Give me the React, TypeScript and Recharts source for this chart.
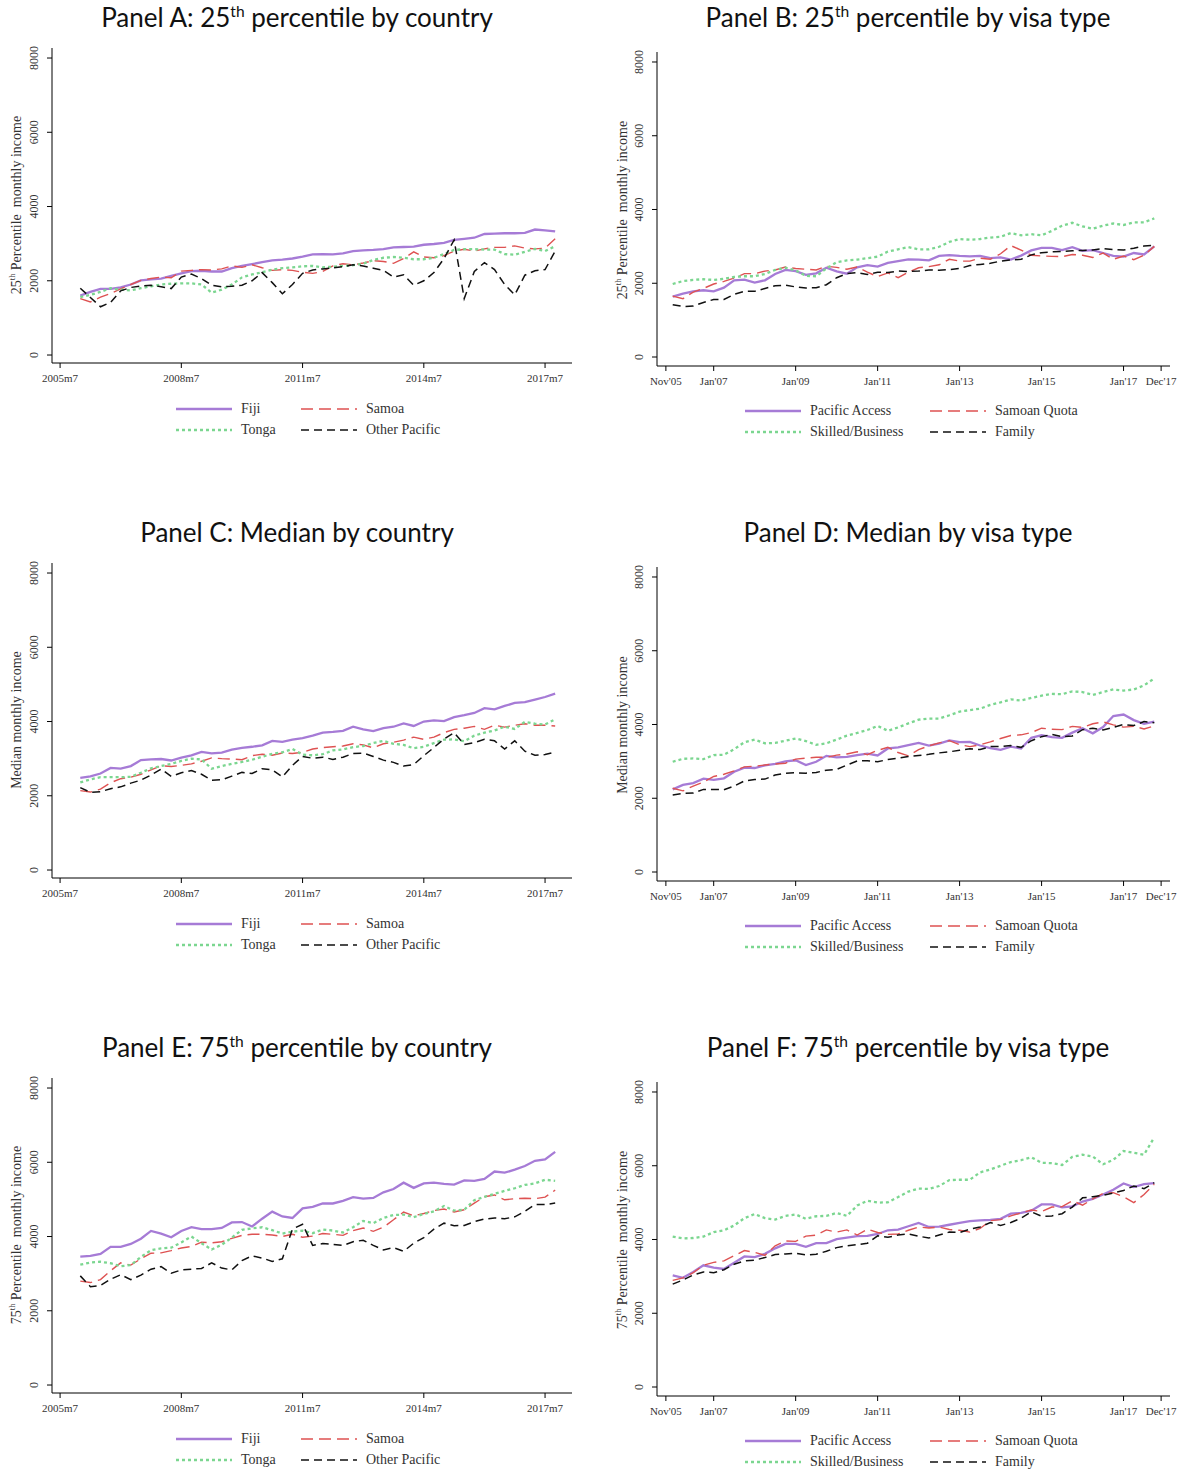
import React from 'react';
import { LineChart, Line, XAxis, YAxis } from 'recharts';

// month offsets from Jan 2006 (quarterly readings)
const monthIndex = [
  0, 3, 6, 9, 12, 15, 18, 21, 24, 27, 30, 33,
  36, 39, 42, 45, 48, 51, 54, 57, 60, 63, 66, 69,
  72, 75, 78, 81, 84, 87, 90, 93, 96, 99, 102, 105,
  108, 111, 114, 117, 120, 123, 126, 129, 132, 135, 138, 141,
];

const countryTicks = [-6, 30, 66, 102, 138];
const countryTickLabels = ['2005m7', '2008m7', '2011m7', '2014m7', '2017m7'];
const visaTicks = [-2, 12, 36, 60, 84, 108, 132, 143];
const visaTickLabels = ["Nov'05", "Jan'07", "Jan'09", "Jan'11", "Jan'13", "Jan'15", "Jan'17", "Dec'17"];
const incomeTicks = [0, 2000, 4000, 6000, 8000];

const countryNames = ['Fiji', 'Samoa', 'Tonga', 'Other Pacific'];
const visaNames = ['Pacific Access', 'Samoan Quota', 'Skilled/Business', 'Family'];

// Panel A: 25th percentile by country
const fijiP25 = [
  1600, 1700, 1780, 1780, 1820, 1900, 2010, 2040, 2060, 2130, 2200, 2260,
  2270, 2250, 2250, 2340, 2400, 2450, 2500, 2550, 2570, 2600, 2650, 2710,
  2720, 2710, 2740, 2800, 2820, 2830, 2850, 2900, 2910, 2920, 2970, 2990,
  3020, 3100, 3130, 3160, 3260, 3270, 3280, 3280, 3290, 3380, 3360, 3330,
];
const samoaP25 = [
  1520, 1430, 1560, 1660, 1780, 1900, 2010, 2060, 2100, 2080, 2260, 2280,
  2300, 2290, 2320, 2400, 2360, 2430, 2350, 2280, 2300, 2280, 2230, 2200,
  2250, 2400, 2460, 2430, 2480, 2540, 2520, 2470, 2600, 2780, 2640, 2620,
  2680, 2800, 2850, 2800, 2860, 2900, 2900, 2940, 2880, 2860, 2880, 3130,
];
const tongaP25 = [
  1560, 1620, 1700, 1800, 1760, 1740, 1800, 1850, 1900, 1920, 1930, 1930,
  1900, 1680, 1760, 1900, 2090, 2170, 2230, 2300, 2340, 2360, 2390, 2400,
  2360, 2380, 2400, 2420, 2460, 2560, 2620, 2640, 2620, 2580, 2580, 2620,
  2720, 2830, 2850, 2850, 2840, 2840, 2720, 2700, 2780, 2860, 2800, 2930,
];
const otherP25 = [
  1800, 1550, 1300, 1420, 1730, 1820, 1860, 1880, 1840, 1790, 2100, 2180,
  2060, 1880, 1840, 1850, 1880, 2000, 2220, 1950, 1650, 1900, 2200, 2290,
  2320, 2350, 2380, 2430, 2400, 2340, 2280, 2100, 2160, 1880, 2000, 2220,
  2600, 3100, 1520, 2250, 2490, 2300, 1900, 1620, 2150, 2270, 2300, 2800,
];

// Panel B: 25th percentile by visa type
const pacificP25 = [
  1640, 1720, 1780, 1810, 1780, 1880, 2080, 2100, 2020, 2080, 2250, 2360,
  2330, 2230, 2270, 2420, 2320, 2260, 2430, 2490, 2450, 2550, 2600, 2650,
  2640, 2620, 2740, 2760, 2740, 2730, 2740, 2680, 2700, 2640, 2750, 2890,
  2960, 2960, 2900, 2980, 2880, 2900, 2820, 2740, 2720, 2820, 2780, 3000,
];
const quotaP25 = [
  1650, 1580, 1760, 1860, 1980, 2050, 2140, 2260, 2260, 2330, 2360, 2440,
  2400, 2380, 2360, 2460, 2430, 2380, 2440, 2300, 2180, 2280, 2150, 2300,
  2420, 2450, 2500, 2650, 2600, 2600, 2680, 2650, 2800, 3020, 2900, 2760,
  2740, 2730, 2720, 2780, 2760, 2700, 2820, 2650, 2740, 2640, 2760, 3000,
];
const skilledP25 = [
  1980, 2060, 2090, 2110, 2090, 2120, 2170, 2190, 2190, 2250, 2360, 2420,
  2350, 2200, 2190, 2400, 2570, 2620, 2640, 2680, 2720, 2860, 2920, 2980,
  2920, 2920, 2990, 3120, 3200, 3180, 3200, 3240, 3260, 3360, 3300, 3330,
  3300, 3420, 3560, 3640, 3540, 3480, 3560, 3620, 3580, 3650, 3650, 3760,
];
const familyP25 = [
  1420, 1370, 1380, 1480, 1560, 1560, 1700, 1780, 1780, 1860, 1930, 1950,
  1900, 1870, 1880, 1960, 2150, 2260, 2290, 2240, 2300, 2290, 2330, 2320,
  2330, 2360, 2350, 2370, 2400, 2480, 2510, 2540, 2600, 2630, 2650, 2770,
  2830, 2850, 2860, 2880, 2890, 2900, 2940, 2910, 2900, 2950, 3010, 3030,
];

// Panel C: median by country
const fijiMed = [
  2480, 2520, 2600, 2750, 2730, 2800, 2960, 2980, 2990, 2950, 3030, 3090,
  3180, 3140, 3160, 3240, 3290, 3320, 3360, 3480, 3450, 3510, 3550, 3620,
  3700, 3720, 3750, 3860, 3790, 3740, 3820, 3860, 3950, 3880, 4000, 4030,
  4010, 4120, 4170, 4230, 4360, 4330, 4420, 4500, 4520, 4590, 4660, 4750,
];
const samoaMed = [
  2140, 2100, 2180, 2350, 2460, 2500, 2580, 2700, 2810, 2790, 2820, 2860,
  2930, 3020, 3000, 2990, 2970, 3080, 3120, 3090, 3150, 3140, 3170, 3260,
  3300, 3320, 3340, 3400, 3370, 3290, 3400, 3440, 3500, 3580, 3520, 3580,
  3700, 3790, 3820, 3870, 3790, 3900, 3850, 3900, 3940, 3900, 3900, 3880,
];
const tongaMed = [
  2360, 2440, 2500, 2500, 2500, 2510, 2620, 2740, 2800, 2860, 2940, 3000,
  2980, 2730, 2800, 2860, 2910, 2970, 3050, 3130, 3170, 3260, 3110, 3090,
  3120, 3220, 3250, 3310, 3340, 3420, 3480, 3400, 3370, 3280, 3320, 3420,
  3510, 3520, 3470, 3620, 3700, 3760, 3860, 3800, 3990, 3940, 3920, 4060,
];
const otherMed = [
  2220, 2090, 2110, 2190, 2240, 2340, 2420, 2560, 2720, 2520, 2620, 2680,
  2580, 2420, 2430, 2530, 2630, 2600, 2730, 2700, 2510, 2820, 3060, 3010,
  3040, 2980, 3040, 3140, 3150, 3060, 2960, 2900, 2800, 2840, 3080, 3300,
  3530, 3700, 3380, 3430, 3520, 3480, 3260, 3480, 3200, 3090, 3110, 3180,
];

// Panel D: median by visa type
const pacificMed = [
  2240, 2360, 2410, 2530, 2500, 2540, 2720, 2830, 2820, 2890, 2930, 3000,
  3030, 2900, 2990, 3150, 3110, 3120, 3170, 3210, 3160, 3350, 3380, 3440,
  3500, 3430, 3480, 3570, 3520, 3530, 3430, 3360, 3310, 3400, 3350, 3640,
  3710, 3660, 3640, 3780, 3900, 3760, 3930, 4230, 4270, 4120, 4020, 4080,
];
const quotaMed = [
  2270, 2200, 2330, 2440, 2590, 2650, 2740, 2850, 2870, 2900, 2930, 2950,
  3060, 3090, 3110, 3110, 3170, 3200, 3260, 3180, 3300, 3380, 3240, 3150,
  3320, 3420, 3500, 3560, 3450, 3400, 3450, 3530, 3620, 3700, 3720, 3780,
  3900, 3870, 3860, 3950, 3920, 4020, 4070, 3990, 3930, 3950, 3880, 3960,
];
const skilledMed = [
  2990, 3070, 3080, 3060, 3170, 3180, 3330, 3520, 3590, 3490, 3500, 3560,
  3620, 3550, 3450, 3490, 3590, 3700, 3770, 3850, 3960, 3830, 3920, 4030,
  4130, 4160, 4160, 4250, 4350, 4390, 4430, 4530, 4600, 4680, 4650, 4720,
  4780, 4830, 4820, 4900, 4880, 4800, 4880, 4950, 4920, 4950, 5060, 5250,
];
const familyMed = [
  2090, 2130, 2140, 2240, 2240, 2230, 2330, 2470, 2510, 2520, 2630, 2680,
  2690, 2680, 2700, 2760, 2780, 2900, 3010, 3020, 2990, 3050, 3090, 3130,
  3160, 3190, 3230, 3260, 3300, 3340, 3320, 3400, 3400, 3430, 3380, 3560,
  3670, 3730, 3670, 3690, 3860, 3900, 3850, 3920, 4000, 3970, 4080, 4050,
];

// Panel E: 75th percentile by country
const fijiP75 = [
  3460, 3480, 3530, 3720, 3720, 3800, 3940, 4150, 4080, 3980, 4150, 4250,
  4200, 4200, 4230, 4380, 4390, 4270, 4480, 4670, 4540, 4500, 4760, 4800,
  4890, 4890, 4960, 5060, 5020, 5040, 5190, 5280, 5450, 5310, 5430, 5450,
  5420, 5400, 5510, 5500, 5550, 5750, 5720, 5800, 5900, 6040, 6080, 6280,
];
const samoaP75 = [
  2800, 2760, 2840, 3080, 3290, 3230, 3400, 3550, 3560, 3620, 3690, 3730,
  3850, 3830, 3860, 3950, 4030, 4060, 4060, 4040, 4000, 4060, 3980, 4010,
  4080, 4060, 4030, 4160, 4230, 4140, 4250, 4450, 4660, 4560, 4620, 4700,
  4740, 4660, 4720, 4900, 5070, 5120, 4990, 5020, 5030, 5020, 5060, 5250,
];
const tongaP75 = [
  3240, 3300, 3320, 3280, 3200, 3230, 3450, 3630, 3680, 3700, 3840, 4000,
  3820, 3650, 3780, 3970, 4180, 4220, 4250, 4170, 4080, 4130, 4160, 4090,
  4190, 4160, 4110, 4250, 4420, 4360, 4500, 4580, 4590, 4520, 4610, 4680,
  4820, 4700, 4720, 4980, 5070, 5150, 5230, 5300, 5390, 5430, 5530, 5500,
];
const otherP75 = [
  2940, 2650, 2680, 2850, 2970, 2840, 2960, 3120, 3190, 3010, 3100, 3120,
  3140, 3290, 3150, 3100, 3350, 3480, 3420, 3330, 3400, 4200, 4330, 3760,
  3810, 3790, 3760, 3860, 3900, 3760, 3640, 3700, 3600, 3820, 3970, 4200,
  4360, 4290, 4300, 4400, 4470, 4500, 4480, 4530, 4680, 4860, 4860, 4900,
];

// Panel F: 75th percentile by visa type
const pacificP75 = [
  3030, 2960, 3120, 3300, 3240, 3200, 3370, 3540, 3520, 3610, 3760, 3880,
  3880, 3800, 3900, 3900, 4010, 4050, 4090, 4100, 4150, 4250, 4270, 4360,
  4450, 4340, 4350, 4400, 4450, 4500, 4520, 4530, 4560, 4700, 4720, 4780,
  4950, 4950, 4870, 4900, 5030, 5100, 5220, 5350, 5520, 5420, 5500, 5530,
];
const quotaP75 = [
  2890, 2960, 3100, 3300, 3380, 3420, 3560, 3700, 3650, 3570, 3830, 3960,
  3950, 4090, 4120, 4260, 4200, 4260, 4120, 4280, 4190, 4140, 4150, 4250,
  4340, 4310, 4340, 4270, 4250, 4200, 4300, 4510, 4540, 4640, 4720, 4800,
  4760, 4880, 4890, 5050, 4930, 5100, 5250, 5270, 5160, 5000, 5220, 5500,
];
const skilledP75 = [
  4080, 4030, 4040, 4080, 4200, 4250, 4380, 4580, 4690, 4580, 4540, 4640,
  4680, 4560, 4630, 4640, 4720, 4640, 4920, 5050, 5000, 5010, 5150, 5300,
  5380, 5370, 5450, 5610, 5620, 5620, 5820, 5900, 6000, 6100, 6150, 6230,
  6080, 6070, 6020, 6240, 6300, 6250, 6040, 6160, 6400, 6350, 6300, 6770,
];
const familyP75 = [
  2790, 2900, 3040, 3120, 3100, 3180, 3330, 3420, 3440, 3510, 3590, 3610,
  3630, 3580, 3600, 3680, 3780, 3830, 3860, 3900, 4100, 4060, 4120, 4150,
  4090, 4040, 4120, 4200, 4190, 4280, 4340, 4460, 4380, 4460, 4580, 4750,
  4630, 4640, 4700, 4880, 5130, 5160, 5200, 5260, 5330, 5450, 5380, 5540,
];

const SERIF = '"Liberation Serif", "DejaVu Serif", serif';
const TITLE_FONT = 'Lato, "Open Sans", sans-serif';

const lineStyles = [
  { stroke: '#a67bd6', width: 2.3, dash: undefined as string | undefined },
  { stroke: '#de5252', width: 1.4, dash: '12 6' },
  { stroke: '#7bd690', width: 2.3, dash: '3 3' },
  { stroke: '#111111', width: 1.5, dash: '8 5' },
];

const layout = {
  country: {
    left: 0,
    margin: { top: 48, right: 21, left: 12, bottom: 7 },
    yDomain: [-215, 8270],
    xDomain: [-8.4, 146],
    ticks: countryTicks,
    tickLabels: countryTickLabels,
    names: countryNames,
    titleX: 297,
    yLabelX: 17,
    yLabelY: 205,
    legendCols: [176, 301],
    legendRows: [409, 430],
  },
  visa: {
    left: 593,
    margin: { top: 52, right: 16, left: 24, bottom: 4 },
    yDomain: [-244, 8271],
    xDomain: [-4.6, 145.6],
    ticks: visaTicks,
    tickLabels: visaTickLabels,
    names: visaNames,
    titleX: 315,
    yLabelX: 30,
    yLabelY: 210,
    legendCols: [152, 337],
    legendRows: [411, 432],
  },
};

const Sup = ({ children }: { children: React.ReactNode }) => (
  <span style={{ fontSize: '0.6em', verticalAlign: 'super', lineHeight: 0 }}>{children}</span>
);

const YTick = (props: any) => {
  const { x, y, payload } = props;
  const tx = x - 7;
  return (
    <text
      x={tx}
      y={y}
      transform={`rotate(-90 ${tx} ${y})`}
      textAnchor="middle"
      fontFamily={SERIF}
      fontSize={12}
      fill="#333"
    >
      {payload.value}
    </text>
  );
};

const makeXTick = (values: number[], labels: string[]) => (props: any) => {
  const { x, y, payload } = props;
  const i = values.indexOf(payload.value);
  return (
    <text x={x} y={y + 12} textAnchor="middle" fontFamily={SERIF} fontSize={11} fill="#333">
      {labels[i]}
    </text>
  );
};

interface PanelProps {
  kind: 'country' | 'visa';
  top: number;
  title: React.ReactNode;
  yLabel: React.ReactNode;
  series: number[][];
}

const Panel: React.FC<PanelProps> = ({ kind, top, title, yLabel, series }) => {
  const cfg = layout[kind];
  const data = monthIndex.map((m, i) => ({
    m,
    a: series[0][i],
    b: series[1][i],
    c: series[2][i],
    d: series[3][i],
  }));
  const keys = ['a', 'b', 'c', 'd'];
  const legendOrder = [
    [0, 1],
    [2, 3],
  ];

  return (
    <div style={{ position: 'absolute', left: cfg.left, top, width: 593, height: 515 }}>
      <div
        style={{
          position: 'absolute',
          left: cfg.titleX,
          top: 0,
          transform: 'translateX(-50%)',
          whiteSpace: 'nowrap',
          fontFamily: TITLE_FONT,
          fontSize: 26,
          lineHeight: '34px',
          color: '#111',
        }}
      >
        {title}
      </div>
      <div style={{ position: 'absolute', left: 0, top: 0 }}>
        <LineChart width={593} height={400} data={data} margin={cfg.margin}>
          <XAxis
            type="number"
            dataKey="m"
            domain={cfg.xDomain}
            ticks={cfg.ticks}
            allowDataOverflow
            height={30}
            tickSize={5}
            stroke="#000"
            axisLine={{ stroke: '#000' }}
            tickLine={{ stroke: '#000' }}
            tick={makeXTick(cfg.ticks, cfg.tickLabels)}
            interval={0}
          />
          <YAxis
            type="number"
            domain={cfg.yDomain}
            ticks={incomeTicks}
            allowDataOverflow
            width={40}
            tickSize={5}
            stroke="#000"
            axisLine={{ stroke: '#000' }}
            tickLine={{ stroke: '#000' }}
            tick={<YTick />}
            interval={0}
          />
          {keys.map((k, i) => (
            <Line
              key={k}
              type="linear"
              dataKey={k}
              stroke={lineStyles[i].stroke}
              strokeWidth={lineStyles[i].width}
              strokeDasharray={lineStyles[i].dash}
              dot={false}
              activeDot={false}
              isAnimationActive={false}
            />
          ))}
        </LineChart>
      </div>
      <div
        style={{
          position: 'absolute',
          left: cfg.yLabelX,
          top: cfg.yLabelY,
          transform: 'translate(-50%, -50%) rotate(-90deg)',
          whiteSpace: 'nowrap',
          fontFamily: SERIF,
          fontSize: 14,
          color: '#333',
        }}
      >
        {yLabel}
      </div>
      {legendOrder.map((row, r) =>
        row.map((idx, c) => {
          const st = lineStyles[idx];
          return (
            <div
              key={`${r}-${c}`}
              style={{
                position: 'absolute',
                left: cfg.legendCols[c],
                top: cfg.legendRows[r] - 10,
                height: 20,
                display: 'flex',
                alignItems: 'center',
                whiteSpace: 'nowrap',
              }}
            >
              <svg width={56} height={6} style={{ display: 'block' }}>
                <line
                  x1={0}
                  y1={3}
                  x2={56}
                  y2={3}
                  stroke={st.stroke}
                  strokeWidth={st.width}
                  strokeDasharray={st.dash}
                />
              </svg>
              <span
                style={{
                  marginLeft: 9,
                  fontFamily: SERIF,
                  fontSize: 14,
                  color: '#333',
                }}
              >
                {cfg.names[idx]}
              </span>
            </div>
          );
        })
      )}
    </div>
  );
};

const App: React.FC = () => {
  const p25Label = (
    <span>
      25<Sup>th</Sup> Percentile&nbsp; monthly income
    </span>
  );
  const p75Label = (
    <span>
      75<Sup>th</Sup> Percentile&nbsp; monthly income
    </span>
  );
  return (
    <div
      style={{
        position: 'absolute',
        left: 0,
        top: 0,
        width: 1186,
        height: 1472,
        background: '#fff',
        overflow: 'hidden',
      }}
    >
      <Panel
        kind="country"
        top={0}
        title={<span>Panel A: 25<Sup>th</Sup> percentile by country</span>}
        yLabel={p25Label}
        series={[fijiP25, samoaP25, tongaP25, otherP25]}
      />
      <Panel
        kind="visa"
        top={0}
        title={<span>Panel B: 25<Sup>th</Sup> percentile by visa type</span>}
        yLabel={p25Label}
        series={[pacificP25, quotaP25, skilledP25, familyP25]}
      />
      <Panel
        kind="country"
        top={515}
        title={<span>Panel C: Median by country</span>}
        yLabel={<span>Median monthly income</span>}
        series={[fijiMed, samoaMed, tongaMed, otherMed]}
      />
      <Panel
        kind="visa"
        top={515}
        title={<span>Panel D: Median by visa type</span>}
        yLabel={<span>Median monthly income</span>}
        series={[pacificMed, quotaMed, skilledMed, familyMed]}
      />
      <Panel
        kind="country"
        top={1030}
        title={<span>Panel E: 75<Sup>th</Sup> percentile by country</span>}
        yLabel={p75Label}
        series={[fijiP75, samoaP75, tongaP75, otherP75]}
      />
      <Panel
        kind="visa"
        top={1030}
        title={<span>Panel F: 75<Sup>th</Sup> percentile by visa type</span>}
        yLabel={p75Label}
        series={[pacificP75, quotaP75, skilledP75, familyP75]}
      />
    </div>
  );
};

export default App;
